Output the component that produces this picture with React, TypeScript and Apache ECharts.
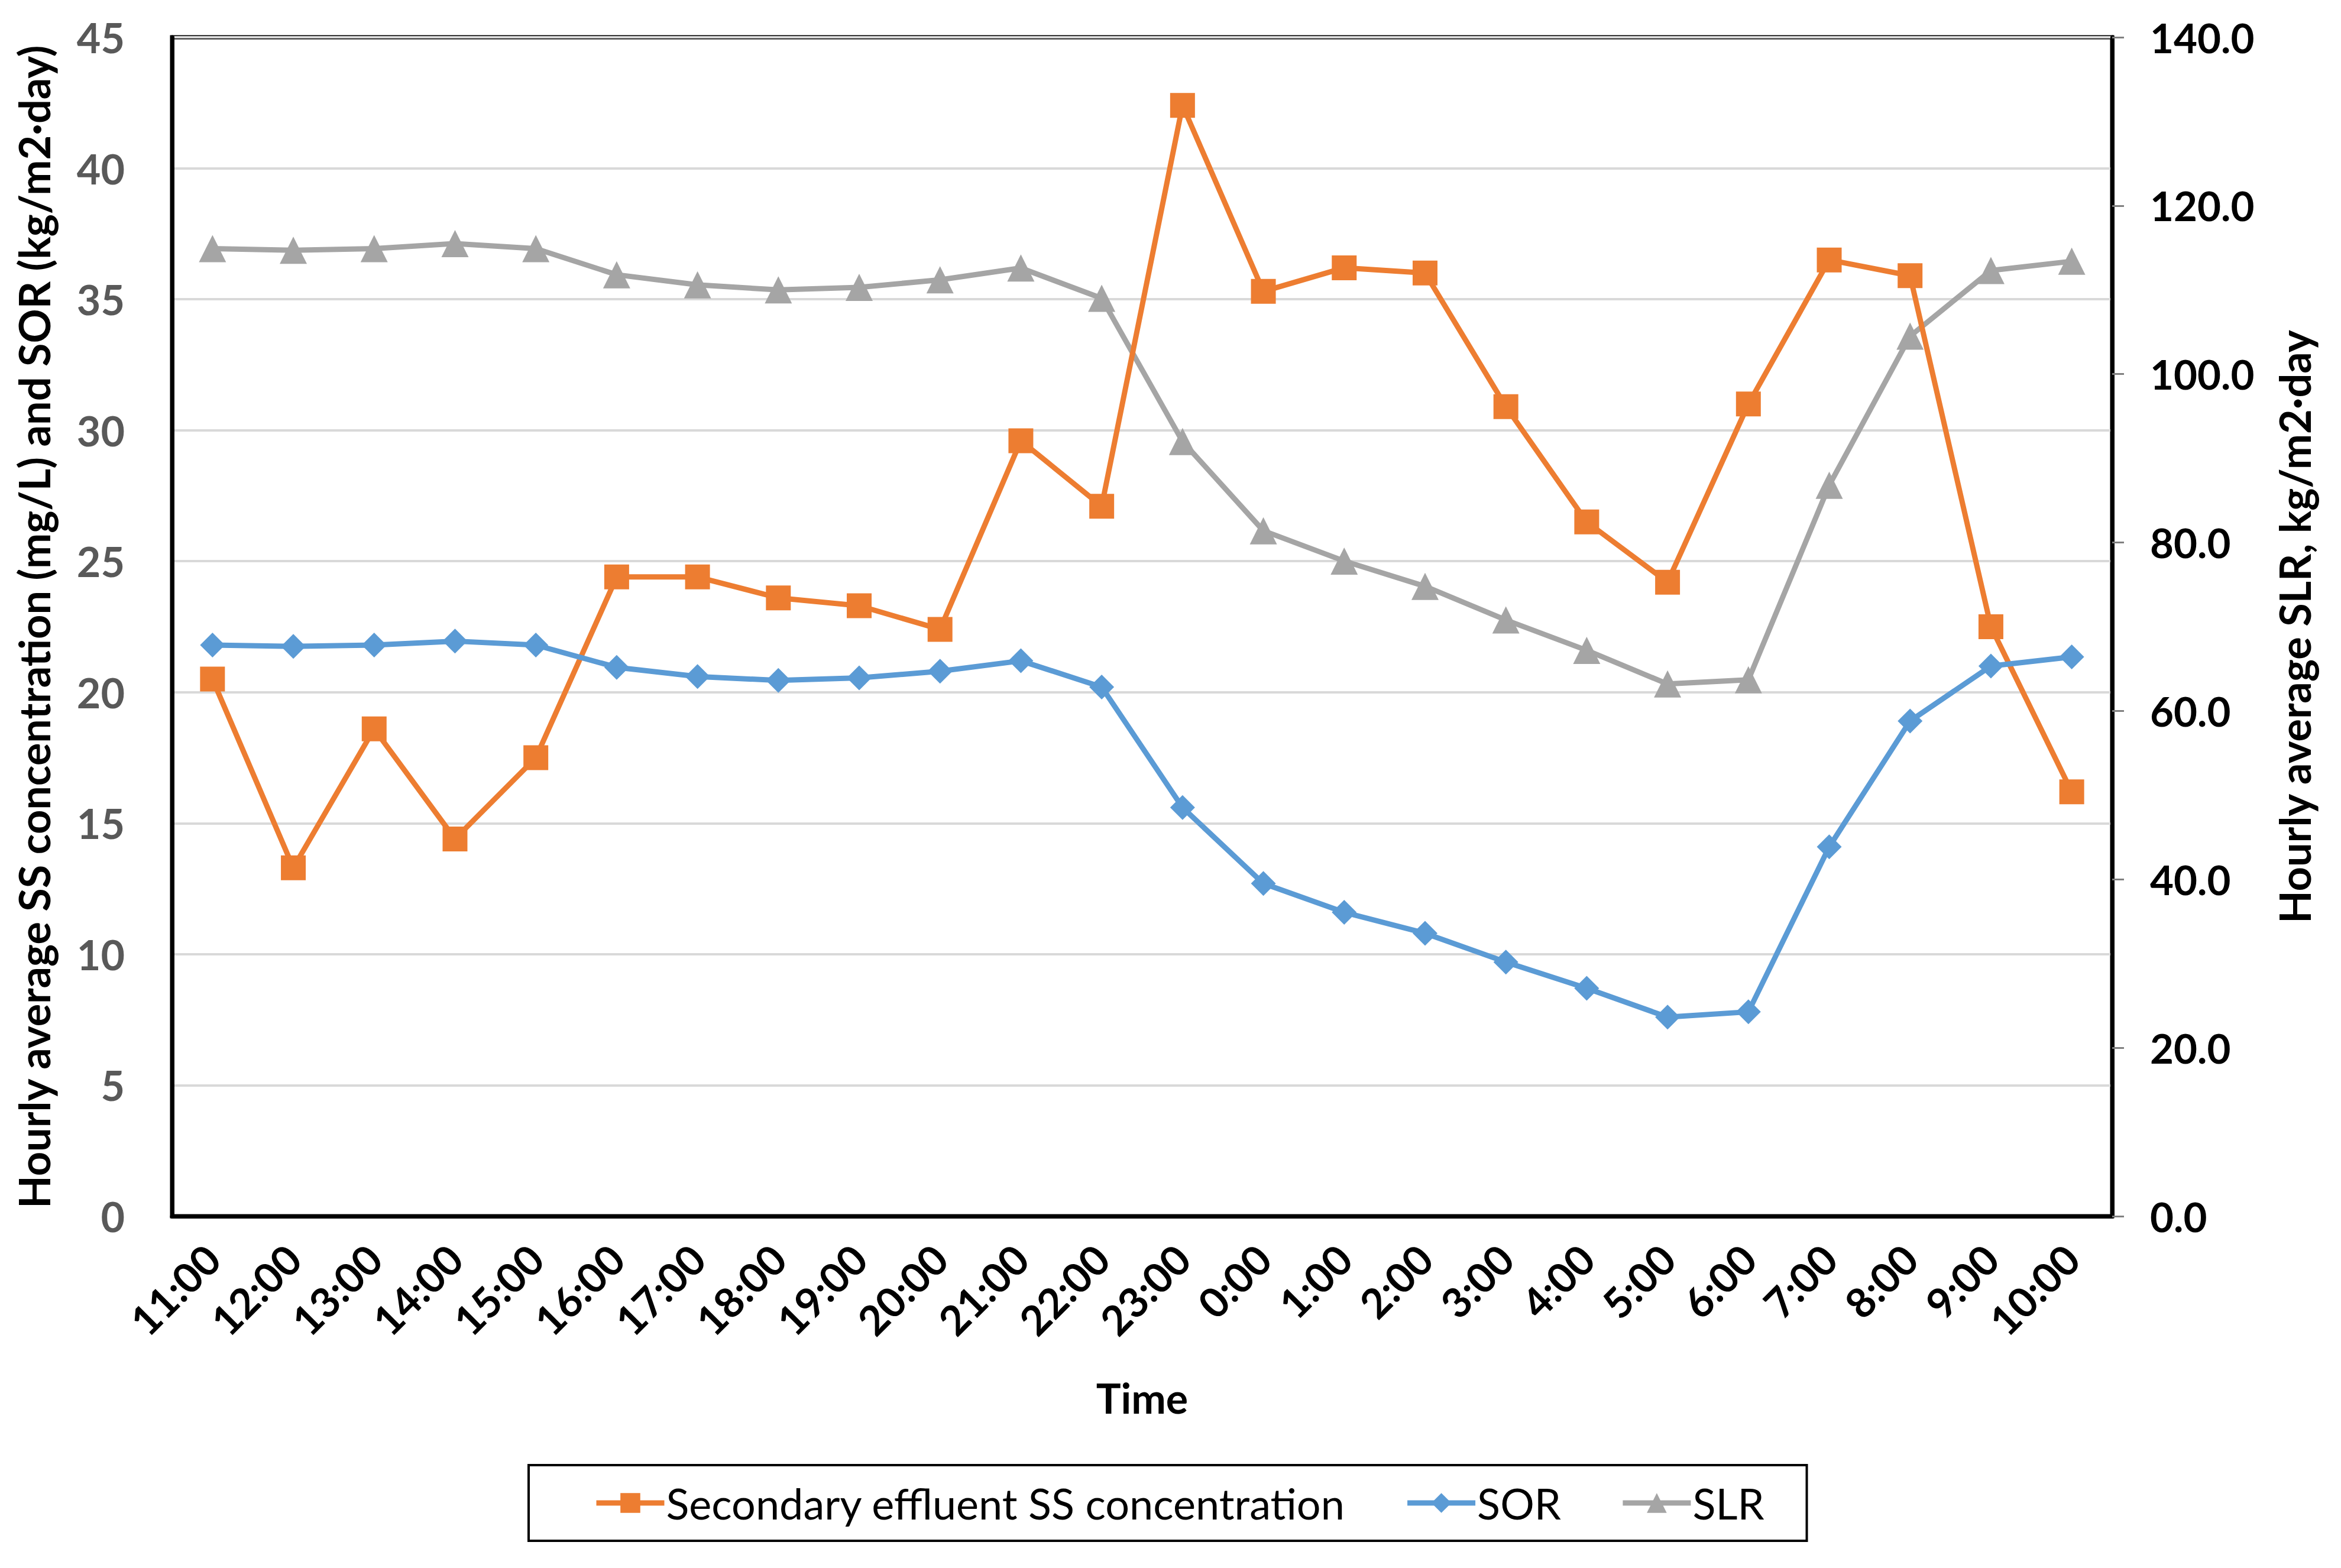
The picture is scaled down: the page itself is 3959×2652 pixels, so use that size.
import React, { useEffect, useRef } from "react";
import * as echarts from "echarts";

const categories = [
  "11:00", "12:00", "13:00", "14:00", "15:00", "16:00", "17:00", "18:00",
  "19:00", "20:00", "21:00", "22:00", "23:00", "0:00", "1:00", "2:00",
  "3:00", "4:00", "5:00", "6:00", "7:00", "8:00", "9:00", "10:00",
];

const ssValues = [
  20.5, 13.3, 18.6, 14.4, 17.5, 24.4, 24.4, 23.6, 23.3, 22.4, 29.6, 27.1,
  42.4, 35.3, 36.2, 36.0, 30.9, 26.5, 24.2, 31.0, 36.5, 35.9, 22.5, 16.2,
];

const sorValues = [
  21.8, 21.75, 21.8, 21.95, 21.8, 20.95, 20.6, 20.45, 20.55, 20.8, 21.2, 20.2,
  15.6, 12.7, 11.6, 10.8, 9.7, 8.7, 7.6, 7.8, 14.1, 18.9, 21.0, 21.35,
];

const slrValues = [
  114.9, 114.7, 114.9, 115.5, 114.9, 111.8, 110.6, 110.0, 110.3, 111.2, 112.6, 109.0,
  92.0, 81.4, 77.8, 74.8, 70.8, 67.2, 63.2, 63.7, 86.8, 104.5, 112.3, 113.4,
];

const leftTicks = { min: 0, max: 45, interval: 5 };
const rightTicks = { min: 0, max: 140, interval: 20 };

const seriesNames = ["Secondary effluent SS concentration", "SOR", "SLR"];

const FONT = "Lato, 'Open Sans', sans-serif";

export default function App() {
  const ref = useRef<HTMLDivElement>(null);

  useEffect(() => {
    document.body.style.margin = "0";
    if (!ref.current) return;
    const chart = echarts.init(ref.current, undefined, { renderer: "svg" });
    chart.setOption({
      animation: false,
      backgroundColor: "#ffffff",
      textStyle: { fontFamily: FONT },
      grid: {
        left: 291,
        right: 387,
        top: 63,
        bottom: 595,
        show: true,
        borderColor: "#000000",
        borderWidth: 7,
      },
      legend: {
        data: seriesNames,
        left: 894,
        top: 2478,
        padding: [28, 72, 28, 110],
        borderColor: "#000000",
        borderWidth: 4,
        itemGap: 100,
        itemWidth: 115,
        itemHeight: 42,
        lineStyle: { width: 9 },
        textStyle: { fontFamily: FONT, fontSize: 72, color: "#000000", padding: [0, 0, 0, -2] },
      },
      xAxis: {
        type: "category",
        data: categories,
        boundaryGap: true,
        name: "Time",
        nameLocation: "middle",
        nameGap: 272,
        nameTextStyle: { fontFamily: FONT, fontSize: 70, fontWeight: "bold", color: "#000000" },
        axisLine: { show: true, lineStyle: { color: "#000000", width: 7 } },
        axisTick: { show: false },
        axisLabel: {
          rotate: 45,
          interval: 0,
          margin: 60,
          fontFamily: FONT,
          fontSize: 70,
          fontWeight: "bold",
          color: "#000000",
        },
      },
      yAxis: [
        {
          type: "value",
          min: leftTicks.min,
          max: leftTicks.max,
          interval: leftTicks.interval,
          position: "left",
          name: "Hourly average SS concentration (mg/L) and SOR (kg/m2·day)",
          nameLocation: "middle",
          nameRotate: 90,
          nameGap: 198,
          nameTextStyle: { fontFamily: FONT, fontSize: 72, fontWeight: "bold", color: "#000000" },
          axisLine: { show: true, lineStyle: { color: "#000000", width: 7 } },
          axisTick: { show: false },
          axisLabel: {
            margin: 80,
            fontFamily: FONT,
            fontSize: 70,
            fontWeight: "bold",
            color: "#595959",
          },
          splitLine: { show: true, lineStyle: { color: "#d9d9d9", width: 4 } },
        },
        {
          type: "value",
          min: rightTicks.min,
          max: rightTicks.max,
          interval: rightTicks.interval,
          position: "right",
          name: "Hourly average SLR, kg/m2·day",
          nameLocation: "middle",
          nameRotate: 90,
          nameGap: 272,
          nameTextStyle: { fontFamily: FONT, fontSize: 72, fontWeight: "bold", color: "#000000" },
          axisLine: { show: true, lineStyle: { color: "#000000", width: 7 } },
          axisTick: { show: true, length: 20, lineStyle: { color: "#808080", width: 3 } },
          axisLabel: {
            margin: 64,
            fontFamily: FONT,
            fontSize: 69,
            fontWeight: "bold",
            color: "#000000",
            formatter: (v: number) => v.toFixed(1),
          },
          splitLine: { show: false },
        },
      ],
      series: [
        {
          name: seriesNames[0],
          type: "line",
          yAxisIndex: 0,
          data: ssValues,
          symbol: "rect",
          symbolSize: 42,
          z: 3,
          itemStyle: { color: "#ED7D31" },
          lineStyle: { color: "#ED7D31", width: 9 },
        },
        {
          name: seriesNames[1],
          type: "line",
          yAxisIndex: 0,
          data: sorValues,
          symbol: "diamond",
          symbolSize: 42,
          z: 3,
          itemStyle: { color: "#5B9BD5" },
          lineStyle: { color: "#5B9BD5", width: 9 },
        },
        {
          name: seriesNames[2],
          type: "line",
          yAxisIndex: 1,
          data: slrValues,
          symbol: "triangle",
          symbolSize: 46,
          z: 2,
          itemStyle: { color: "#A5A5A5" },
          lineStyle: { color: "#A5A5A5", width: 9 },
        },
      ],
    });
    return () => chart.dispose();
  }, []);

  return <div ref={ref} style={{ width: 3959, height: 2652 }} />;
}
